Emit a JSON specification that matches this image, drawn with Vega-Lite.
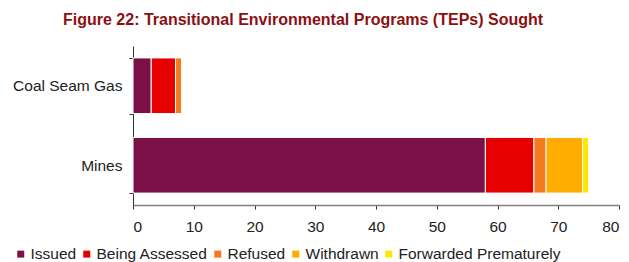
{
  "$schema": "https://vega.github.io/schema/vega-lite/v6.json",
  "width": 486,
  "height": 159,
  "autosize": {"type": "none"},
  "padding": {"left": 133, "top": 46, "right": 10, "bottom": 57},
  "background": "white",
  "title": {
    "text": "Figure 22: Transitional Environmental Programs (TEPs) Sought",
    "anchor": "start",
    "frame": "group",
    "dx": -70,
    "offset": 11,
    "font": "Liberation Sans",
    "fontSize": 16,
    "fontWeight": "bold",
    "color": "#8C1010"
  },
  "config": {
    "view": {"stroke": null},
    "font": "Liberation Sans"
  },
  "data": {
    "values": [
      {"category": "Coal Seam Gas", "status": "Issued", "stage": 1, "count": 3},
      {"category": "Coal Seam Gas", "status": "Being Assessed", "stage": 2, "count": 4},
      {"category": "Coal Seam Gas", "status": "Refused", "stage": 3, "count": 1},
      {"category": "Mines", "status": "Issued", "stage": 1, "count": 58},
      {"category": "Mines", "status": "Being Assessed", "stage": 2, "count": 8},
      {"category": "Mines", "status": "Refused", "stage": 3, "count": 2},
      {"category": "Mines", "status": "Withdrawn", "stage": 4, "count": 6},
      {"category": "Mines", "status": "Forwarded Prematurely", "stage": 5, "count": 1}
    ]
  },
  "mark": {"type": "bar", "stroke": "white", "strokeWidth": 1},
  "encoding": {
    "y": {
      "field": "category",
      "type": "nominal",
      "scale": {"paddingInner": 0.3, "paddingOuter": 0.15},
      "axis": {
        "title": null,
        "domainColor": "#333333",
        "tickColor": "#333333",
        "tickSize": 4,
        "tickBand": "extent",
        "labelPadding": 7,
        "labelFontSize": 15.5,
        "labelColor": "#222222",
        "labelFont": "Liberation Sans"
      }
    },
    "x": {
      "field": "count",
      "type": "quantitative",
      "stack": "zero",
      "scale": {"domain": [0, 80], "nice": false},
      "axis": {
        "title": null,
        "values": [0, 10, 20, 30, 40, 50, 60, 70, 80],
        "grid": false,
        "domainColor": "#808080",
        "domainWidth": 1.5,
        "tickColor": "#333333",
        "tickSize": 4,
        "labelFontSize": 15.5,
        "labelColor": "#222222",
        "labelPadding": 10,
        "labelFont": "Liberation Sans"
      }
    },
    "order": {"field": "stage", "type": "quantitative", "sort": "ascending"},
    "color": {
      "field": "status",
      "type": "nominal",
      "sort": ["Issued", "Being Assessed", "Refused", "Withdrawn", "Forwarded Prematurely"],
      "scale": {
        "domain": ["Issued", "Being Assessed", "Refused", "Withdrawn", "Forwarded Prematurely"],
        "range": ["#7A1045", "#E60000", "#F47A20", "#FFAB00", "#FFE800"]
      },
      "legend": {
        "title": null,
        "orient": "none",
        "legendX": -120,
        "legendY": 200,
        "direction": "horizontal",
        "symbolType": "square",
        "symbolSize": 49,
        "symbolStrokeWidth": 0,
        "labelFontSize": 15.5,
        "labelColor": "#222222",
        "labelFont": "Liberation Sans",
        "labelLimit": 400,
        "labelOffset": 2,
        "columnPadding": 2
      }
    }
  }
}
